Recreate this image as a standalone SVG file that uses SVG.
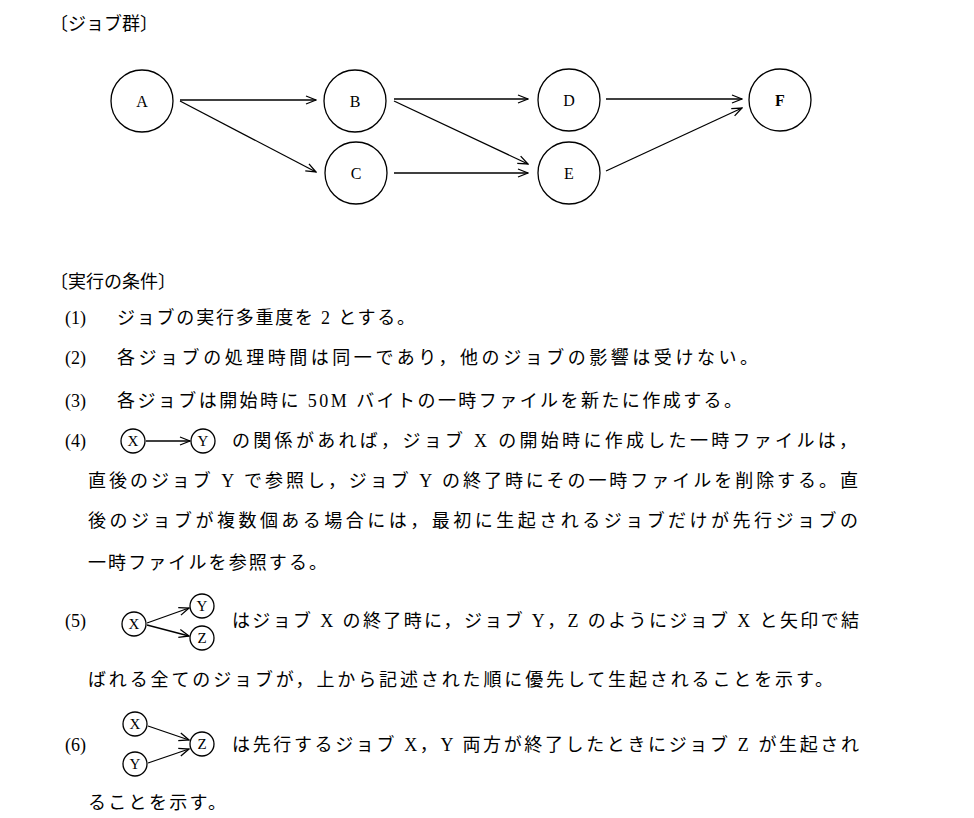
<svg xmlns="http://www.w3.org/2000/svg" width="974" height="818" viewBox="0 0 974 818">
<defs>
<marker id="ah" markerWidth="12" markerHeight="10" refX="11" refY="5" orient="auto" markerUnits="userSpaceOnUse"><path d="M1,1 L11,5 L1,9" fill="none" stroke="#000" stroke-width="1.3"/></marker>
</defs>
<style>
text{font-family:"Liberation Serif","Noto Sans CJK JP",serif;fill:#000}
.t{font-size:18px}
.n{font-size:16px;text-anchor:middle}
.s{font-size:15px;text-anchor:middle}
circle{fill:#fff;stroke:#000;stroke-width:1.3}
.c line{stroke:#000;stroke-width:1.3;marker-end:url(#ah)}
</style>
<rect width="974" height="818" fill="#fff"/>
<text class="t" x="50" y="30">〔ジョブ群〕</text>
<g id="A"><circle cx="142" cy="101" r="31"/><text class="n" x="142" y="107">A</text></g>
<g id="B"><circle cx="355" cy="101" r="31"/><text class="n" x="355" y="107">B</text></g>
<g id="C"><circle cx="356" cy="173" r="31"/><text class="n" x="356" y="179">C</text></g>
<g id="D"><circle cx="569" cy="100" r="31"/><text class="n" x="569" y="106">D</text></g>
<g id="E"><circle cx="569" cy="173" r="31"/><text class="n" x="569" y="179">E</text></g>
<g id="F"><circle cx="780" cy="100" r="31"/><text class="n" x="780" y="106" font-weight="bold">F</text></g>
<g class="c" id="connectors">
<line x1="180" y1="100" x2="316" y2="100"/>
<line x1="180" y1="101" x2="316" y2="172"/>
<line x1="394" y1="99" x2="528" y2="99"/>
<line x1="394" y1="101" x2="528" y2="164"/>
<line x1="394" y1="173" x2="528" y2="173"/>
<line x1="606" y1="99" x2="742" y2="99"/>
<line x1="606" y1="171" x2="742" y2="108"/>
</g>
<text class="t" x="50" y="288">〔実行の条件〕</text>
<text class="t" x="65" y="324">(1)</text>
<text class="t" x="117" y="324" textLength="298">ジョブの実行多重度を 2 とする。</text>
<text class="t" x="65" y="364">(2)</text>
<text class="t" x="117" y="364" textLength="641">各ジョブの処理時間は同一であり，他のジョブの影響は受けない。</text>
<text class="t" x="65" y="407">(3)</text>
<text class="t" x="117" y="407" textLength="625">各ジョブは開始時に 50M バイトの一時ファイルを新たに作成する。</text>
<text class="t" x="65" y="447">(4)</text>
<g id="ex4">
<circle cx="133" cy="441" r="12"/><text class="s" x="133" y="446">X</text>
<circle cx="203" cy="441" r="12"/><text class="s" x="203" y="446">Y</text>
<g class="c"><line x1="146" y1="441" x2="190" y2="441"/></g>
</g>
<text class="t" x="232" y="447" textLength="625">の関係があれば，ジョブ X の開始時に作成した一時ファイルは，</text>
<text class="t" x="88" y="487" textLength="770">直後のジョブ Y で参照し，ジョブ Y の終了時にその一時ファイルを削除する。直</text>
<text class="t" x="88" y="527" textLength="770">後のジョブが複数個ある場合には，最初に生起されるジョブだけが先行ジョブの</text>
<text class="t" x="88" y="569" textLength="239">一時ファイルを参照する。</text>
<text class="t" x="65" y="627">(5)</text>
<g id="ex5">
<circle cx="134" cy="624" r="12"/><text class="s" x="134" y="629">X</text>
<circle cx="202" cy="606" r="12"/><text class="s" x="202" y="611">Y</text>
<circle cx="202" cy="638" r="12"/><text class="s" x="202" y="643">Z</text>
<g class="c"><line x1="147" y1="623" x2="189" y2="608"/><line x1="147" y1="625" x2="189" y2="636"/></g>
</g>
<text class="t" x="232" y="627" textLength="627">はジョブ X の終了時に，ジョブ Y，Z のようにジョブ X と矢印で結</text>
<text class="t" x="88" y="686" textLength="745">ばれる全てのジョブが，上から記述された順に優先して生起されることを示す。</text>
<text class="t" x="65" y="751">(6)</text>
<g id="ex6">
<circle cx="135" cy="724" r="12"/><text class="s" x="135" y="729">X</text>
<circle cx="135" cy="764" r="12"/><text class="s" x="135" y="769">Y</text>
<circle cx="202" cy="744" r="12"/><text class="s" x="202" y="749">Z</text>
<g class="c"><line x1="148" y1="726" x2="189" y2="740"/><line x1="148" y1="763" x2="189" y2="749"/></g>
</g>
<text class="t" x="232" y="751" textLength="627">は先行するジョブ X，Y 両方が終了したときにジョブ Z が生起され</text>
<text class="t" x="88" y="809" textLength="138">ることを示す。</text>
</svg>
